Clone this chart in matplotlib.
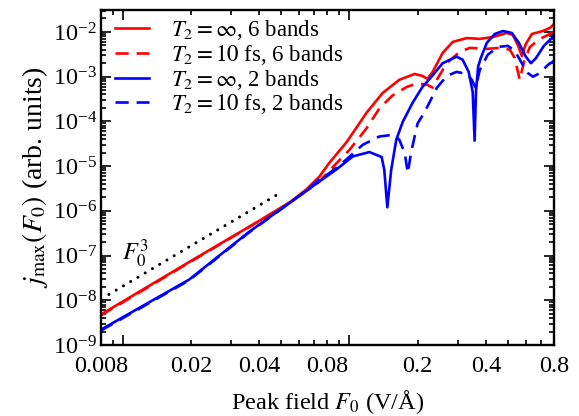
import matplotlib
matplotlib.use("Agg")
import matplotlib.pyplot as plt
from matplotlib.ticker import LogLocator, FuncFormatter, NullFormatter, LogFormatterMathtext

plt.rcParams['font.family'] = ['Liberation Serif', 'DejaVu Serif']
plt.rcParams['mathtext.fontset'] = 'stix'
plt.rcParams['font.size'] = 17.5

# peak field F0 (V/A) and j_max (arb. units)
f_6inf = [0.008, 0.02, 0.04, 0.055, 0.0645, 0.0736, 0.0817, 0.097, 0.119, 0.140,
          0.166, 0.194, 0.210, 0.221, 0.233, 0.258, 0.286, 0.330, 0.376, 0.430,
          0.495, 0.526, 0.554, 0.577, 0.601, 0.639, 0.714, 0.768, 0.8]
j_6inf = [4.8e-9, 7.6e-8, 6.0e-7, 1.6e-6, 3.0e-6, 5.8e-6, 1.2e-5, 3.4e-5, 1.56e-4, 4.3e-4,
          8.5e-4, 1.15e-3, 1.04e-3, 8.9e-4, 1.28e-3, 3.4e-3, 6.0e-3, 7.3e-3, 7.0e-3, 7.7e-3,
          9.5e-3, 8.6e-3, 5.1e-3, 2.9e-3, 5.4e-3, 9.0e-3, 1.05e-2, 1.23e-2, 1.5e-2]

f_6t2 = [0.008, 0.02, 0.04, 0.055, 0.0645, 0.0714, 0.0817, 0.1, 0.119, 0.136,
         0.155, 0.179, 0.198, 0.219, 0.233, 0.243, 0.269, 0.307, 0.340, 0.404,
         0.461, 0.511, 0.537, 0.565, 0.589, 0.626, 0.693, 0.8]
j_6t2 = [4.6e-9, 7.4e-8, 5.9e-7, 1.55e-6, 2.8e-6, 3.8e-6, 8.0e-6, 2.3e-5, 7.0e-5, 2.0e-4,
         3.8e-4, 5.9e-4, 7.0e-4, 6.7e-4, 5.7e-4, 8.5e-4, 2.0e-3, 3.6e-3, 4.4e-3, 4.2e-3,
         4.4e-3, 4.0e-3, 2.6e-3, 8.5e-4, 2.1e-3, 4.6e-3, 7.0e-3, 1.0e-2]

f_2inf = [0.008, 0.0196, 0.0361, 0.0645, 0.0735, 0.0873, 0.1035, 0.1225, 0.1387, 0.1425,
          0.147, 0.1529, 0.161, 0.172, 0.190, 0.210, 0.226, 0.258, 0.297, 0.316,
          0.336, 0.350, 0.357, 0.362, 0.370, 0.380, 0.404, 0.438, 0.476, 0.521,
          0.56, 0.601, 0.633, 0.666, 0.722, 0.8]
j_2inf = [2.2e-9, 2.9e-8, 3.4e-7, 2.8e-6, 4.5e-6, 8.3e-6, 1.65e-5, 2.06e-5, 1.6e-5, 8.3e-6,
          1.2e-6, 8.3e-6, 3.9e-5, 9.8e-5, 2.6e-4, 5.9e-4, 8.9e-4, 2.0e-3, 2.8e-3, 2.4e-3,
          1.28e-3, 4.6e-4, 3.7e-5, 4.6e-4, 1.68e-3, 2.6e-3, 5.7e-3, 9.0e-3, 1.05e-2, 9.5e-3,
          5.7e-3, 2.8e-3, 2.0e-3, 2.6e-3, 4.9e-3, 8.1e-3]

f_2t2 = [0.008, 0.0196, 0.0361, 0.0645, 0.0735, 0.0817, 0.0967, 0.1145, 0.1357, 0.155,
         0.166, 0.1755, 0.181, 0.187, 0.194, 0.2, 0.215, 0.226, 0.243, 0.269,
         0.297, 0.330, 0.347, 0.361, 0.376, 0.408, 0.452, 0.5, 0.537, 0.577,
         0.614, 0.646, 0.693, 0.752, 0.8]
j_2t2 = [2.1e-9, 2.8e-8, 3.3e-7, 2.8e-6, 5.0e-6, 7.0e-6, 1.39e-5, 3.0e-5, 4.6e-5, 5.0e-5,
         3.9e-5, 1.96e-5, 7.0e-6, 1.96e-5, 4.6e-5, 9.0e-5, 1.64e-4, 2.7e-4, 5.6e-4, 1.04e-3,
         1.28e-3, 1.15e-3, 8.5e-4, 5.6e-4, 1.4e-3, 3.1e-3, 4.6e-3, 4.9e-3, 3.8e-3, 2.0e-3,
         1.2e-3, 1.0e-3, 1.2e-3, 1.83e-3, 2.25e-3]

# F0^3 guide line (two end points)
f_cube = [0.00867, 0.048]
j_cube = [1.35e-8, 2.3e-6]

xtick_labels = [0.008, 0.02, 0.04, 0.08, 0.2, 0.4, 0.8]

fig = plt.figure(figsize=(5.79, 4.16), dpi=100)
ax = fig.add_axes([0.1744, 0.1707, 0.7824, 0.8053])

lw = 1.9
dash = (5, 3)
ax.plot(f_6inf, j_6inf, color='#ff0000', lw=lw, label=r'$T_2 = \infty$, 6 bands')
ax.plot(f_6t2, j_6t2, color='#ff0000', lw=lw, dashes=dash, label=r'$T_2 = 10$ fs, 6 bands')
ax.plot(f_2inf, j_2inf, color='#0000ff', lw=lw, label=r'$T_2 = \infty$, 2 bands')
ax.plot(f_2t2, j_2t2, color='#0000ff', lw=lw, dashes=dash, label=r'$T_2 = 10$ fs, 2 bands')
ax.plot(f_cube, j_cube, color='black', lw=2.2, dashes=(0.01, 2.75), dash_capstyle='round')
ax.text(0.075, 0.272, r'$F_0^3$', transform=ax.transAxes, ha='center', va='center')

ax.set_xscale('log')
ax.set_yscale('log')
ax.set_xlim(0.008, 0.8)
ax.set_ylim(1e-9, 3.1e-2)

# x labels sit on minor ticks
ax.xaxis.set_major_locator(LogLocator(base=10))
ax.xaxis.set_minor_locator(LogLocator(base=10, subs=range(2, 10)))
ax.xaxis.set_major_formatter(NullFormatter())
ax.xaxis.set_minor_formatter(FuncFormatter(
    lambda v, pos: f"{v:g}" if any(abs(v / t - 1) < 1e-6 for t in xtick_labels) else ""))
ax.yaxis.set_major_locator(LogLocator(base=10, numticks=20))
ax.yaxis.set_minor_locator(LogLocator(base=10, subs=range(2, 10), numticks=20))
ax.yaxis.set_major_formatter(LogFormatterMathtext())
ax.yaxis.set_minor_formatter(NullFormatter())

ax.tick_params(which='both', direction='in', top=True, right=True, width=1.2)
ax.tick_params(which='major', length=7.2)
ax.tick_params(which='minor', length=3.6)
ax.tick_params(axis='x', which='both', pad=8)
ax.tick_params(axis='y', which='both', pad=3)
for s in ax.spines.values():
    s.set_linewidth(1.7)

ax.set_xlabel(r'Peak field $F_0$ (V/Å)', labelpad=8)
ax.set_ylabel(r'$j_\mathrm{max}(F_0)$ (arb. units)', labelpad=2, fontsize=20)

ax.legend(loc='upper left', bbox_to_anchor=(0.031, 0.975), frameon=False,
          borderaxespad=0, borderpad=0, handlelength=1.5, handletextpad=0.95,
          labelspacing=0.03, fontsize=16.5)

fig.savefig('out.png', dpi=100)
